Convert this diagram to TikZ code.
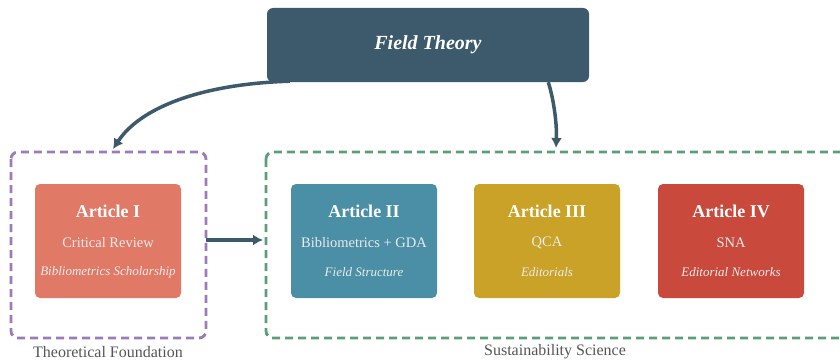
\documentclass[tikz,border=0pt]{standalone}
\usepackage{fontspec}
\setmainfont{Liberation Serif}
\usetikzlibrary{arrows.meta,calc}
\definecolor{ftcol}{HTML}{3D5A6C}
\definecolor{purp}{HTML}{9B7BB8}
\definecolor{grn}{HTML}{5A9E7A}
\definecolor{aone}{HTML}{E07A67}
\definecolor{atwo}{HTML}{4A8FA6}
\definecolor{athree}{HTML}{C9A227}
\definecolor{afour}{HTML}{C94A3C}
\definecolor{lblcol}{HTML}{555555}
\tikzset{
  group/.style={draw, dash pattern=on 8pt off 5pt, line width=2.8pt, rounded corners=7pt},
  article/.style={fill=#1, draw=none, rounded corners=5pt, minimum width=146pt, minimum height=114pt, inner sep=0pt},
  arttitle/.style={text=white, font=\fontsize{18}{20}\selectfont\bfseries, inner sep=0pt},
  artsub/.style={text=white!92!black, font=\fontsize{14.5}{16}\selectfont, inner sep=0pt},
  artital/.style={text=white!92!black, font=\fontsize{13}{14}\selectfont\itshape, inner sep=0pt},
  conn/.style={draw=ftcol, line width=3.5pt, -{Latex[length=10pt,width=11pt]}},
  grouplabel/.style={text=lblcol, font=\fontsize{16}{18}\selectfont, inner sep=0pt}
}
\begin{document}
\begin{tikzpicture}[x=1pt,y=-1pt]
\clip (0,0) rectangle (840,361);
\node[fill=ftcol, rounded corners=6pt, minimum width=322pt, minimum height=74pt, text=white, font=\fontsize{20}{22}\selectfont\bfseries\itshape] (ft) at (428,45) {Field Theory};
\draw[group, purp] (11,152) rectangle (206,338);
\draw[group, grn] (266,152) rectangle (850,338);
\coordinate (tf) at (113,152);
\coordinate (tfe) at (206,240);
\coordinate (sse) at (266,240);
\coordinate (sstop) at (556,152);
\foreach \n/\c/\x/\t/\s/\i in {a1/aone/108/Article I/Critical Review/Bibliometrics Scholarship,
  a2/atwo/364/Article II/Bibliometrics + GDA/Field Structure,
  a3/athree/547/Article III/QCA/Editorials,
  a4/afour/731/Article IV/SNA/Editorial Networks}{
  \node[article=\c] (\n) at (\x,241) {};
  \node[arttitle] (\n t) at ($(\n)+(0,-30)$) {\t};
  \node[artsub] (\n s) at ($(\n)+(0,2)$) {\s};
  \node[artital] (\n i) at ($(\n)+(0,31)$) {\i};
}
\node[grouplabel] (l1) at (108,352) {Theoretical Foundation};
\node[grouplabel] (l2) at (555,352) {Sustainability Science};
\coordinate (fts) at ($(ft.south west)+(23,-1)$);
\coordinate (fts2) at ($(ft.south west)!0.873!(ft.south east)$);
\draw[conn] (fts) .. controls (200,84) and (140,108) .. ($(tf)+(0,-3)$);
\draw[conn] (fts2) .. controls (554,100) and (557,125) .. ($(sstop)+(0,-4)$);
\draw[conn] (tfe) -- ($(sse)+(-3,0)$);
\end{tikzpicture}
\end{document}
